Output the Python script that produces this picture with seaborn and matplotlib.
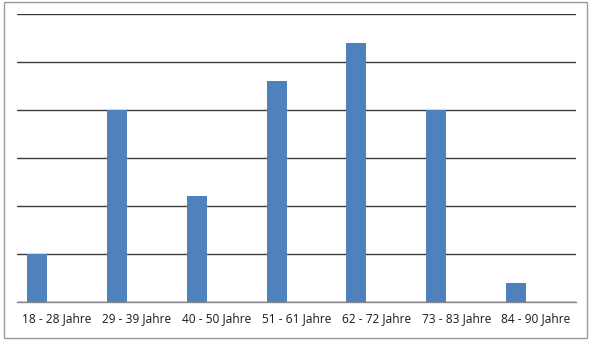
import pandas as pd
import numpy as np
import matplotlib
matplotlib.use('Agg')
import matplotlib.pyplot as plt
import seaborn as sns
from matplotlib.patches import Rectangle

# age groups and their values
groups = ['18 - 28 Jahre', '29 - 39 Jahre', '40 - 50 Jahre', '51 - 61 Jahre',
          '62 - 72 Jahre', '73 - 83 Jahre', '84 - 90 Jahre']
values = [1.0, 4.0, 2.2, 4.6, 5.4, 4.0, 0.4]
# the chart leaves room for two more (empty) series per group
series = ['Reihe1', 'Reihe2', 'Reihe3']

rows = []
for g, v in zip(groups, values):
    rows.append({'Gruppe': g, 'Reihe': series[0], 'Wert': v})
    for s in series[1:]:
        rows.append({'Gruppe': g, 'Reihe': s, 'Wert': 0.0})
df = pd.DataFrame(rows)

sns.set_style('white')
plt.rcParams['font.family'] = ['Open Sans', 'DejaVu Sans']

fig = plt.figure(figsize=(5.96, 3.51), dpi=100)
ax = fig.add_axes([17 / 596, 1 - 302 / 351, (576 - 17) / 596, (302 - 14) / 351])

sns.barplot(data=df, x='Gruppe', y='Wert', hue='Reihe', hue_order=series,
            order=groups, palette=['#4F81BD', '#C0504D', '#9BBB59'],
            saturation=1, width=0.75, linewidth=0, errorbar=None,
            legend=False, ax=ax)

ax.set_xlim(-0.5, len(groups) - 0.5)
ax.set_ylim(0, 6)
ax.set_yticks(np.arange(0, 7, 1))
ax.set_yticklabels([])
ax.tick_params(axis='y', length=0)
ax.yaxis.grid(True, color='#3a3a3a', linewidth=1.0)
ax.set_axisbelow(True)

ax.set_xlabel('')
ax.set_ylabel('')
ax.set_xticks(np.arange(len(groups)))
ax.set_xticklabels(groups, fontsize=8.6, color='#1a1a1a')
ax.tick_params(axis='x', which='major', length=0, pad=7.5)
ax.set_xticks(np.arange(-0.5, len(groups)), minor=True)
ax.tick_params(axis='x', which='minor', length=4, width=0.9, color='#868686',
               direction='out')

for side in ['left', 'right', 'top']:
    ax.spines[side].set_visible(False)
ax.spines['bottom'].set_color('#868686')
ax.spines['bottom'].set_linewidth(1.0)

# outer chart frame
fig.patches.append(Rectangle((3.5 / 596, 1 - 338 / 351), (587 - 3.5) / 596, (338 - 1.5) / 351,
                             transform=fig.transFigure, fill=False,
                             edgecolor='#9a9a9a', linewidth=1.0))

fig.savefig('out.png', dpi=100)
